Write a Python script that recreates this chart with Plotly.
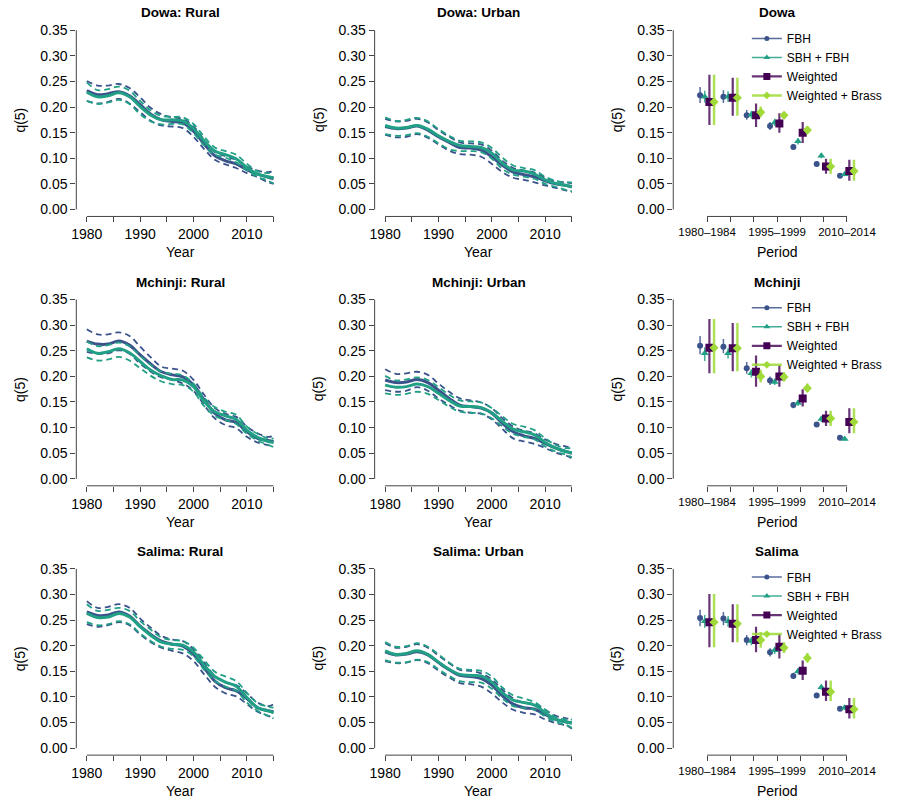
import plotly.graph_objects as go

# ---- smoothed q(5) trends (left two columns) ----
YEARS = [1980, 1982, 1984, 1986, 1988, 1990, 1992, 1994, 1996, 1998,
         2000, 2002, 2004, 2006, 2008, 2010, 2012, 2014, 2015]

dowa_rural_fbh = [0.232,0.224,0.226,0.230,0.222,0.205,0.186,0.175,0.172,0.169,0.153,0.128,0.105,0.095,0.089,0.078,0.069,0.063,0.060]
dowa_rural_fbh_lo = [0.212,0.207,0.210,0.216,0.207,0.190,0.173,0.164,0.162,0.159,0.142,0.118,0.097,0.088,0.081,0.071,0.063,0.053,0.050]
dowa_rural_fbh_hi = [0.251,0.242,0.242,0.245,0.237,0.219,0.198,0.186,0.180,0.177,0.162,0.136,0.112,0.104,0.097,0.084,0.076,0.073,0.075]
dowa_rural_sbh = [0.229,0.220,0.222,0.228,0.220,0.201,0.184,0.175,0.175,0.173,0.158,0.134,0.114,0.107,0.099,0.082,0.069,0.064,0.062]
dowa_rural_sbh_lo = [0.212,0.206,0.209,0.214,0.206,0.186,0.172,0.166,0.167,0.166,0.149,0.125,0.107,0.101,0.092,0.076,0.064,0.056,0.051]
dowa_rural_sbh_hi = [0.248,0.233,0.235,0.240,0.232,0.212,0.193,0.183,0.181,0.180,0.167,0.142,0.121,0.114,0.107,0.089,0.075,0.071,0.073]

dowa_urban_fbh = [0.162,0.158,0.159,0.163,0.155,0.142,0.131,0.121,0.120,0.116,0.103,0.086,0.073,0.068,0.064,0.056,0.050,0.047,0.044]
dowa_urban_fbh_lo = [0.146,0.141,0.142,0.147,0.140,0.127,0.115,0.108,0.107,0.103,0.089,0.073,0.062,0.058,0.053,0.047,0.042,0.037,0.034]
dowa_urban_fbh_hi = [0.177,0.172,0.173,0.177,0.170,0.155,0.142,0.131,0.129,0.127,0.115,0.095,0.081,0.076,0.072,0.062,0.055,0.053,0.051]
dowa_urban_sbh = [0.164,0.159,0.160,0.164,0.157,0.144,0.133,0.125,0.123,0.121,0.110,0.090,0.077,0.075,0.069,0.058,0.051,0.047,0.045]
dowa_urban_sbh_lo = [0.147,0.144,0.145,0.149,0.142,0.129,0.118,0.114,0.114,0.112,0.099,0.079,0.068,0.064,0.060,0.050,0.044,0.038,0.036]
dowa_urban_sbh_hi = [0.180,0.173,0.175,0.179,0.172,0.157,0.144,0.134,0.133,0.131,0.120,0.101,0.086,0.081,0.077,0.064,0.056,0.053,0.053]

mchinji_rural_fbh = [0.269,0.263,0.263,0.269,0.261,0.242,0.224,0.209,0.203,0.199,0.183,0.154,0.128,0.115,0.110,0.092,0.079,0.075,0.073]
mchinji_rural_fbh_lo = [0.248,0.244,0.245,0.251,0.244,0.225,0.209,0.198,0.193,0.186,0.172,0.144,0.118,0.105,0.099,0.082,0.071,0.066,0.063]
mchinji_rural_fbh_hi = [0.292,0.282,0.282,0.286,0.279,0.258,0.237,0.219,0.215,0.211,0.193,0.164,0.138,0.127,0.121,0.102,0.089,0.082,0.084]
mchinji_rural_sbh = [0.254,0.245,0.248,0.254,0.246,0.229,0.212,0.201,0.194,0.193,0.180,0.151,0.131,0.123,0.116,0.095,0.081,0.073,0.071]
mchinji_rural_sbh_lo = [0.237,0.231,0.233,0.238,0.231,0.216,0.201,0.190,0.185,0.183,0.170,0.142,0.123,0.115,0.107,0.088,0.075,0.066,0.062]
mchinji_rural_sbh_hi = [0.268,0.259,0.261,0.266,0.259,0.240,0.222,0.209,0.205,0.202,0.186,0.158,0.140,0.131,0.125,0.102,0.088,0.079,0.079]

mchinji_urban_fbh = [0.193,0.188,0.189,0.194,0.188,0.173,0.157,0.144,0.141,0.138,0.128,0.108,0.092,0.084,0.079,0.069,0.060,0.053,0.050]
mchinji_urban_fbh_lo = [0.173,0.170,0.172,0.179,0.172,0.157,0.144,0.133,0.129,0.127,0.116,0.097,0.079,0.073,0.068,0.060,0.051,0.045,0.040]
mchinji_urban_fbh_hi = [0.214,0.205,0.206,0.209,0.203,0.186,0.170,0.157,0.153,0.149,0.138,0.118,0.102,0.094,0.089,0.077,0.068,0.063,0.062]
mchinji_urban_sbh = [0.183,0.179,0.180,0.185,0.180,0.167,0.153,0.142,0.141,0.139,0.129,0.112,0.097,0.092,0.086,0.071,0.060,0.053,0.051]
mchinji_urban_sbh_lo = [0.167,0.164,0.166,0.170,0.166,0.154,0.141,0.131,0.129,0.128,0.118,0.102,0.088,0.082,0.077,0.063,0.053,0.047,0.042]
mchinji_urban_sbh_hi = [0.201,0.192,0.194,0.198,0.193,0.179,0.164,0.153,0.151,0.149,0.138,0.122,0.107,0.102,0.095,0.079,0.066,0.060,0.060]

salima_rural_fbh = [0.266,0.259,0.260,0.266,0.258,0.238,0.222,0.209,0.203,0.199,0.183,0.157,0.131,0.118,0.112,0.097,0.079,0.073,0.071]
salima_rural_fbh_lo = [0.242,0.237,0.240,0.246,0.240,0.222,0.207,0.196,0.190,0.185,0.170,0.144,0.120,0.107,0.101,0.086,0.071,0.063,0.060]
salima_rural_fbh_hi = [0.287,0.274,0.276,0.281,0.274,0.253,0.235,0.219,0.212,0.209,0.193,0.167,0.141,0.128,0.123,0.107,0.089,0.082,0.086]
salima_rural_sbh = [0.263,0.255,0.256,0.263,0.256,0.237,0.220,0.207,0.203,0.201,0.188,0.162,0.140,0.129,0.121,0.099,0.079,0.073,0.069]
salima_rural_sbh_lo = [0.246,0.240,0.242,0.248,0.242,0.224,0.209,0.198,0.194,0.192,0.179,0.153,0.131,0.120,0.112,0.089,0.073,0.063,0.058]
salima_rural_sbh_hi = [0.281,0.268,0.270,0.274,0.268,0.248,0.231,0.216,0.211,0.209,0.196,0.172,0.149,0.140,0.131,0.108,0.088,0.081,0.079]

salima_urban_fbh = [0.188,0.182,0.184,0.188,0.182,0.167,0.153,0.142,0.140,0.136,0.123,0.102,0.086,0.079,0.076,0.066,0.056,0.051,0.049]
salima_urban_fbh_lo = [0.170,0.166,0.167,0.172,0.166,0.151,0.138,0.127,0.125,0.120,0.107,0.089,0.075,0.069,0.066,0.056,0.049,0.044,0.038]
salima_urban_fbh_hi = [0.205,0.196,0.198,0.203,0.196,0.181,0.166,0.153,0.151,0.146,0.134,0.114,0.097,0.089,0.086,0.075,0.063,0.058,0.055]
salima_urban_sbh = [0.190,0.183,0.185,0.190,0.183,0.168,0.154,0.144,0.142,0.141,0.129,0.108,0.094,0.089,0.084,0.069,0.056,0.051,0.049]
salima_urban_sbh_lo = [0.172,0.167,0.168,0.173,0.168,0.154,0.141,0.131,0.129,0.128,0.116,0.097,0.082,0.079,0.075,0.062,0.051,0.045,0.040]
salima_urban_sbh_hi = [0.207,0.198,0.199,0.205,0.198,0.183,0.167,0.155,0.153,0.151,0.140,0.118,0.103,0.097,0.090,0.075,0.060,0.056,0.056]

# ---- period estimates (right column) ----
PERIODS = ["1980\u20131984", "1985\u20131989", "1990\u20131994", "1995\u20131999",
           "2000\u20132004", "2005\u20132009", "2010\u20132014"]
METHODS = ["FBH", "SBH + FBH", "Weighted", "Weighted + Brass"]

dowa_fbh = [0.223, 0.220, 0.184, 0.163, 0.122, 0.089, 0.066]
dowa_fbh_lo = [0.208, 0.208, 0.175, 0.155, 0.117, 0.085, 0.063]
dowa_fbh_hi = [0.239, 0.233, 0.194, 0.171, 0.128, 0.093, 0.069]
dowa_sbh = [0.220, 0.220, 0.185, 0.170, 0.133, 0.105, 0.069]
dowa_sbh_lo = [0.209, 0.210, 0.177, 0.163, 0.127, 0.100, 0.065]
dowa_sbh_hi = [0.232, 0.231, 0.193, 0.177, 0.139, 0.110, 0.073]
dowa_w = [0.210, 0.218, 0.184, 0.168, 0.150, 0.084, 0.075]
dowa_w_lo = [0.165, 0.183, 0.161, 0.150, 0.130, 0.070, 0.056]
dowa_w_hi = [0.263, 0.257, 0.207, 0.188, 0.171, 0.099, 0.097]
dowa_wb = [0.210, 0.218, 0.190, 0.184, 0.155, 0.084, 0.075]
dowa_wb_lo = [0.165, 0.183, 0.180, 0.177, 0.148, 0.070, 0.056]
dowa_wb_hi = [0.263, 0.257, 0.201, 0.191, 0.163, 0.099, 0.097]

mchinji_fbh = [0.260, 0.258, 0.216, 0.192, 0.144, 0.106, 0.080]
mchinji_fbh_lo = [0.243, 0.245, 0.205, 0.183, 0.138, 0.101, 0.076]
mchinji_fbh_hi = [0.279, 0.273, 0.228, 0.200, 0.150, 0.111, 0.083]
mchinji_sbh = [0.245, 0.245, 0.206, 0.189, 0.148, 0.117, 0.078]
mchinji_sbh_lo = [0.230, 0.235, 0.198, 0.183, 0.142, 0.111, 0.075]
mchinji_sbh_hi = [0.257, 0.255, 0.214, 0.196, 0.154, 0.122, 0.081]
mchinji_w = [0.256, 0.255, 0.209, 0.200, 0.157, 0.118, 0.111]
mchinji_w_lo = [0.206, 0.210, 0.180, 0.180, 0.141, 0.103, 0.089]
mchinji_w_hi = [0.312, 0.304, 0.241, 0.222, 0.175, 0.133, 0.138]
mchinji_wb = [0.256, 0.255, 0.200, 0.199, 0.177, 0.118, 0.111]
mchinji_wb_lo = [0.206, 0.210, 0.188, 0.190, 0.169, 0.103, 0.089]
mchinji_wb_hi = [0.312, 0.304, 0.213, 0.208, 0.186, 0.133, 0.138]

salima_fbh = [0.254, 0.253, 0.211, 0.187, 0.141, 0.103, 0.077]
salima_fbh_lo = [0.238, 0.240, 0.201, 0.179, 0.135, 0.099, 0.073]
salima_fbh_hi = [0.270, 0.266, 0.221, 0.195, 0.147, 0.108, 0.081]
salima_sbh = [0.248, 0.248, 0.209, 0.191, 0.150, 0.119, 0.079]
salima_sbh_lo = [0.235, 0.237, 0.201, 0.184, 0.144, 0.114, 0.075]
salima_sbh_hi = [0.260, 0.258, 0.217, 0.198, 0.156, 0.124, 0.083]
salima_w = [0.246, 0.243, 0.211, 0.198, 0.151, 0.110, 0.076]
salima_w_lo = [0.197, 0.207, 0.187, 0.175, 0.133, 0.092, 0.058]
salima_w_hi = [0.301, 0.281, 0.237, 0.223, 0.171, 0.132, 0.098]
salima_wb = [0.246, 0.243, 0.211, 0.196, 0.176, 0.110, 0.076]
salima_wb_lo = [0.197, 0.207, 0.196, 0.186, 0.167, 0.092, 0.058]
salima_wb_hi = [0.301, 0.281, 0.227, 0.207, 0.186, 0.132, 0.098]

# ---- styling ----
W, H = 900, 810
FONT = "Liberation Sans, Arial, Helvetica, sans-serif"
BLUE = "#3B528B"
TEAL = "#21A085"
PURPLE = "#440154"
LIME = "#A0DA39"
AXCOL = "#444444"
TICKSIZE = 14


def fx(p):
    return p / W


def fy(p):
    return 1 - p / H


line_panels = [
    ("Dowa: Rural", (dowa_rural_fbh, dowa_rural_fbh_lo, dowa_rural_fbh_hi),
     (dowa_rural_sbh, dowa_rural_sbh_lo, dowa_rural_sbh_hi)),
    ("Dowa: Urban", (dowa_urban_fbh, dowa_urban_fbh_lo, dowa_urban_fbh_hi),
     (dowa_urban_sbh, dowa_urban_sbh_lo, dowa_urban_sbh_hi)),
    ("Mchinji: Rural", (mchinji_rural_fbh, mchinji_rural_fbh_lo, mchinji_rural_fbh_hi),
     (mchinji_rural_sbh, mchinji_rural_sbh_lo, mchinji_rural_sbh_hi)),
    ("Mchinji: Urban", (mchinji_urban_fbh, mchinji_urban_fbh_lo, mchinji_urban_fbh_hi),
     (mchinji_urban_sbh, mchinji_urban_sbh_lo, mchinji_urban_sbh_hi)),
    ("Salima: Rural", (salima_rural_fbh, salima_rural_fbh_lo, salima_rural_fbh_hi),
     (salima_rural_sbh, salima_rural_sbh_lo, salima_rural_sbh_hi)),
    ("Salima: Urban", (salima_urban_fbh, salima_urban_fbh_lo, salima_urban_fbh_hi),
     (salima_urban_sbh, salima_urban_sbh_lo, salima_urban_sbh_hi)),
]

period_panels = [
    ("Dowa", [(dowa_fbh, dowa_fbh_lo, dowa_fbh_hi), (dowa_sbh, dowa_sbh_lo, dowa_sbh_hi),
              (dowa_w, dowa_w_lo, dowa_w_hi), (dowa_wb, dowa_wb_lo, dowa_wb_hi)]),
    ("Mchinji", [(mchinji_fbh, mchinji_fbh_lo, mchinji_fbh_hi), (mchinji_sbh, mchinji_sbh_lo, mchinji_sbh_hi),
                 (mchinji_w, mchinji_w_lo, mchinji_w_hi), (mchinji_wb, mchinji_wb_lo, mchinji_wb_hi)]),
    ("Salima", [(salima_fbh, salima_fbh_lo, salima_fbh_hi), (salima_sbh, salima_sbh_lo, salima_sbh_hi),
                (salima_w, salima_w_lo, salima_w_hi), (salima_wb, salima_wb_lo, salima_wb_hi)]),
]

# marker style per method: colour, symbol, size, error-bar colour, error-bar thickness
method_style = [
    (BLUE, "circle", 6, "rgba(59,82,139,0.85)", 1.5),
    (TEAL, "triangle-up", 7, "rgba(33,160,133,0.85)", 1.5),
    (PURPLE, "square", 8, "rgba(68,1,84,0.8)", 2.2),
    (LIME, "diamond", 7, "rgba(160,218,57,0.85)", 2.5),
]
offsets = [-0.3, -0.1, 0.1, 0.3]

fig = go.Figure()
layout = dict(width=W, height=H, margin=dict(l=0, r=0, t=0, b=0),
              paper_bgcolor="white", plot_bgcolor="white",
              font=dict(family=FONT, color="black", size=12),
              showlegend=True)
shapes, annotations = [], []

yticks = [0, 0.05, 0.10, 0.15, 0.20, 0.25, 0.30, 0.35]
ytext = ["%.2f" % v for v in yticks]


def note(text, x, y, size, angle=0):
    annotations.append(dict(text=text, x=x, y=y, xref="paper", yref="paper",
                            xanchor="center", yanchor="middle", showarrow=False,
                            textangle=angle, font=dict(size=size)))


def add_axes(k, row, col, xdom_px, xrange, tickvals, ticktext, tickfont, xtitle, title):
    ax = "" if k == 1 else str(k)
    top = 22.3 + 270 * row
    bot = 216 + 270 * row
    layout["xaxis" + ax] = dict(domain=[fx(xdom_px[0]), fx(xdom_px[1])], range=xrange,
                                anchor="y" + ax, showgrid=False, zeroline=False, showline=False,
                                ticks="outside", ticklen=5, tickwidth=1, tickcolor=AXCOL,
                                tickvals=tickvals, ticktext=ticktext, tickfont=tickfont)
    layout["yaxis" + ax] = dict(domain=[fy(bot), fy(top)], range=[-0.0136, 0.3636],
                                anchor="x" + ax, showgrid=False, zeroline=False, showline=False,
                                ticks="outside", ticklen=5, tickwidth=1, tickcolor=AXCOL,
                                tickvals=yticks, ticktext=ytext, tickfont=dict(size=TICKSIZE))
    # R-style axis lines spanning only the tick range
    shapes.append(dict(type="line", xref="x" + ax + " domain", yref="y" + ax,
                       x0=0, x1=0, y0=0, y1=0.35, line=dict(color=AXCOL, width=1)))
    shapes.append(dict(type="line", xref="x" + ax, yref="y" + ax + " domain",
                       x0=tickvals[0], x1=tickvals[-1], y0=0, y1=0, line=dict(color=AXCOL, width=1)))
    cx = fx((xdom_px[0] + xdom_px[1]) / 2)
    note("<b>%s</b>" % title, cx, fy(12 + 270 * row), 13.5)
    note(xtitle, cx, fy(252 + 270 * row), 14)
    note("q(5)", fx(15 + 300 * col), fy(119 + 270 * row), 14, -90)
    return ax


year_ticks = [1980, 1985, 1990, 1995, 2000, 2005, 2010, 2015]
year_text = [str(y) if y % 10 == 0 else "" for y in year_ticks]

for i, (title, fbh, sbh) in enumerate(line_panels):
    row, col = i // 2, i % 2
    k = row * 3 + col + 1
    ax = add_axes(k, row, col, (71.7 + 300 * col, 280.6 + 300 * col), [1978.03, 2016.97],
                  year_ticks, year_text, dict(size=TICKSIZE), "Year", title)
    for series, color in ((fbh, BLUE), (sbh, TEAL)):
        mid, lo, hi = series
        for vals, dash, width in ((lo, "6px,4px", 1.8), (hi, "6px,4px", 1.8), (mid, "solid", 3)):
            fig.add_trace(go.Scatter(x=YEARS, y=vals, mode="lines", xaxis="x" + ax, yaxis="y" + ax,
                                     line=dict(color=color, width=width, dash=dash,
                                               shape="spline", smoothing=1.0),
                                     showlegend=False, hoverinfo="skip"))

period_idx = list(range(1, len(PERIODS) + 1))
period_text = [p if j % 3 == 0 else "" for j, p in enumerate(PERIODS)]

for r, (title, methods) in enumerate(period_panels):
    k = r * 3 + 3
    ax = add_axes(k, r, 2, (672, 880.7), [-0.45, 8.45], period_idx, period_text,
                  dict(size=11.5), "Period", title)
    leg = "legend" if r == 0 else "legend%d" % (r + 1)
    for m, (vals, lo, hi) in enumerate(methods):
        color, symbol, size, ecol, eth = method_style[m]
        fig.add_trace(go.Scatter(
            x=[p + offsets[m] for p in period_idx], y=vals, mode="markers",
            xaxis="x" + ax, yaxis="y" + ax,
            marker=dict(color=color, symbol=symbol, size=size, line=dict(width=0)),
            error_y=dict(type="data", symmetric=False,
                         array=[h - v for h, v in zip(hi, vals)],
                         arrayminus=[v - l for v, l in zip(vals, lo)],
                         width=0, thickness=eth, color=ecol),
            showlegend=False, hoverinfo="skip"))
        # legend entry drawn as line + point, like the R legend
        fig.add_trace(go.Scatter(x=[None], y=[None], mode="lines+markers", name=METHODS[m],
                                 xaxis="x" + ax, yaxis="y" + ax, legend=leg,
                                 line=dict(color=ecol, width=eth),
                                 marker=dict(color=color, symbol=symbol, size=size - 1)))
    layout[leg] = dict(x=fx(746), y=fy(23 + 270 * r), xanchor="left", yanchor="top",
                       bgcolor="rgba(0,0,0,0)", font=dict(size=12), tracegroupgap=0,
                       itemwidth=30)

layout["shapes"] = shapes
layout["annotations"] = annotations
fig.update_layout(**layout)
# drop the browser's default body margin so the figure sits at the page origin
fig.write_html("out.html", config={"displayModeBar": False},
               post_script="document.body.style.margin='0';")
